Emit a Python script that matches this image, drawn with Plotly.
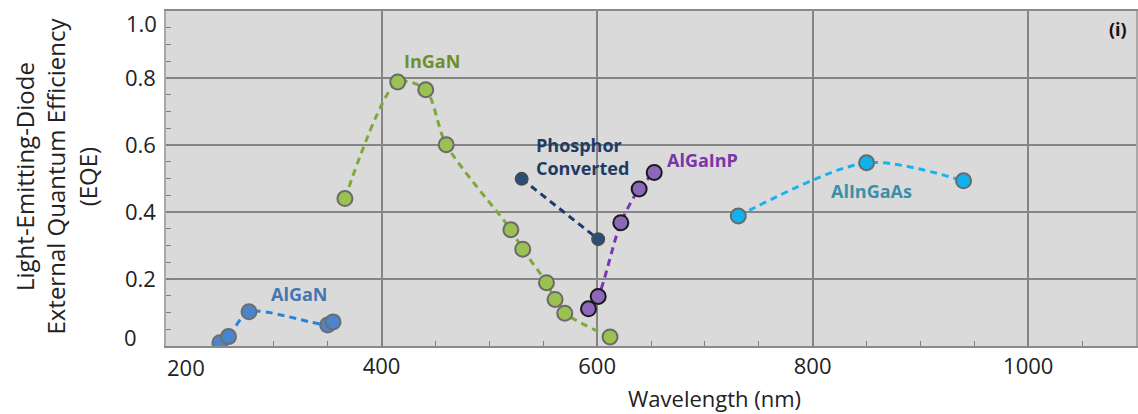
import plotly.graph_objects as go

# LED external quantum efficiency vs. emission wavelength, by material system
algan_nm = [250, 258, 277, 350, 355]
algan_eqe = [0.010, 0.028, 0.102, 0.063, 0.072]

ingan_nm = [366, 415, 441, 460, 520, 531, 553, 561, 570, 612]
ingan_eqe = [0.440, 0.788, 0.765, 0.601, 0.347, 0.289, 0.189, 0.139, 0.098, 0.027]

phosphor_nm = [530, 601]
phosphor_eqe = [0.499, 0.319]

algainp_nm = [592, 601, 622, 639, 653]
algainp_eqe = [0.111, 0.148, 0.368, 0.469, 0.518]

alingaas_nm = [731, 850, 940]
alingaas_eqe = [0.388, 0.547, 0.493]

x_ticks = [200, 400, 600, 800, 1000]
x_tick_text = ["200", "400", "600", "800", "1000"]
y_ticks = [0, 0.2, 0.4, 0.6, 0.8, 1.0]
y_tick_text = ["0", "0.2", "0.4", "0.6", "0.8", "1.0"]

X_RANGE = [200, 1100]
Y_RANGE = [0, 1.0]
FONT = "Open Sans"
TICK_SIZE = 22

series = [
    # name, x, y, line colour, marker fill, marker edge, marker size
    ("AlGaN", algan_nm, algan_eqe, "#2a84d8", "#4a84cc", "#6e6e6e", 15),
    ("InGaN", ingan_nm, ingan_eqe, "#7ea83c", "#9bc152", "#6a6a6a", 15),
    ("Phosphor Converted", phosphor_nm, phosphor_eqe, "#1f3a6e", "#24507f", "#4a4a4a", 12),
    ("AlGaInP", algainp_nm, algainp_eqe, "#7a35b8", "#8d68b8", "#1a1a1a", 15),
    ("AlInGaAs", alingaas_nm, alingaas_eqe, "#16b4ee", "#10b2ee", "#6a6a6a", 15),
]

fig = go.Figure()
for name, xs, ys, lc, fc, ec, ms in series:
    fig.add_trace(go.Scatter(
        x=xs, y=ys, name=name, mode="lines+markers",
        line=dict(color=lc, width=3, dash="7px,5px", shape="spline", smoothing=0.8),
        marker=dict(size=ms, color=fc, line=dict(color=ec, width=2)),
        showlegend=False,
    ))

# series labels
labels = [
    ("<b>InGaN</b>", 447, 0.851, "#6e8e2e", "center"),
    ("<b>AlGaN</b>", 323.6, 0.154, "#4676b0", "center"),
    ("<b>Phosphor<br>Converted</b>", 541.5, 0.567, "#1f3b64", "left"),
    ("<b>AlGaInP</b>", 697.4, 0.555, "#7a35a8", "center"),
    ("<b>AlInGaAs</b>", 855, 0.463, "#3a90aa", "center"),
]
for text, x, y, col, anchor in labels:
    fig.add_annotation(x=x, y=y, text=text, showarrow=False, xanchor=anchor,
                       align="left", font=dict(family=FONT, size=18, color=col))

fig.add_annotation(x=0.9815, y=0.946, xref="paper", yref="paper", text="<b>(i)</b>",
                   showarrow=False, xanchor="center", yanchor="middle",
                   font=dict(family=FONT, size=18, color="#111111"))

# tick labels at the ends of each axis sit nudged inward, clear of the corner
tick_font = dict(family=FONT, size=TICK_SIZE, color="#222222")
fig.add_annotation(x=x_ticks[0], y=0, yref="paper", text=x_tick_text[0], showarrow=False,
                   xanchor="center", yanchor="top", xshift=20, yshift=-4, font=tick_font)
fig.add_annotation(x=0, y=y_ticks[0], xref="paper", text=y_tick_text[0], showarrow=False,
                   xanchor="right", yanchor="middle", xshift=-27, yshift=9, font=tick_font)
fig.add_annotation(x=0, y=y_ticks[-1], xref="paper", text=y_tick_text[-1], showarrow=False,
                   xanchor="right", yanchor="middle", xshift=-7, yshift=-12, font=tick_font)

# y-axis title in three lines
fig.add_annotation(x=-0.114, y=0.507, xref="paper", yref="paper",
                   text="Light-Emitting-Diode<br>External Quantum Efficiency<br>(EQE)",
                   textangle=-90, showarrow=False, xanchor="center", yanchor="middle",
                   font=dict(family=FONT, size=24, color="#222222"))

# x-axis title
fig.add_annotation(x=0.565, y=-0.155, xref="paper", yref="paper",
                   text="Wavelength (nm)", showarrow=False, xanchor="center", yanchor="middle",
                   font=dict(family=FONT, size=22, color="#222222"))

fig.update_layout(
    width=1138, height=414,
    margin=dict(l=166, r=0, t=11, b=68),
    paper_bgcolor="white",
    plot_bgcolor="#dadada",
    font=dict(family=FONT, size=TICK_SIZE, color="#222222"),
)
fig.update_xaxes(
    range=X_RANGE, tickvals=x_ticks, ticktext=[""] + x_tick_text[1:],
    ticks="inside", ticklen=5, tickcolor="#7f7f7f",
    showgrid=True, gridcolor="#858585", gridwidth=1.5,
    showline=True, linecolor="#8a8a8a", linewidth=1.5, mirror=True,
    minor=dict(dtick=50, ticks="inside", ticklen=5, tickcolor="#7f7f7f", showgrid=False),
    zeroline=False, tickfont=dict(size=TICK_SIZE),
)
fig.update_yaxes(
    range=Y_RANGE, tickvals=y_ticks, ticktext=[""] + y_tick_text[1:-1] + [""],
    ticks="inside", ticklen=5, tickcolor="#7f7f7f", ticklabelstandoff=4,
    showgrid=True, gridcolor="#858585", gridwidth=1.5,
    showline=True, linecolor="#a8a8a8", linewidth=1.5, mirror=True,
    minor=dict(dtick=0.05, ticks="inside", ticklen=5, tickcolor="#7f7f7f", showgrid=False),
    zeroline=False, tickfont=dict(size=TICK_SIZE),
)

fig.write_html("out.html")
